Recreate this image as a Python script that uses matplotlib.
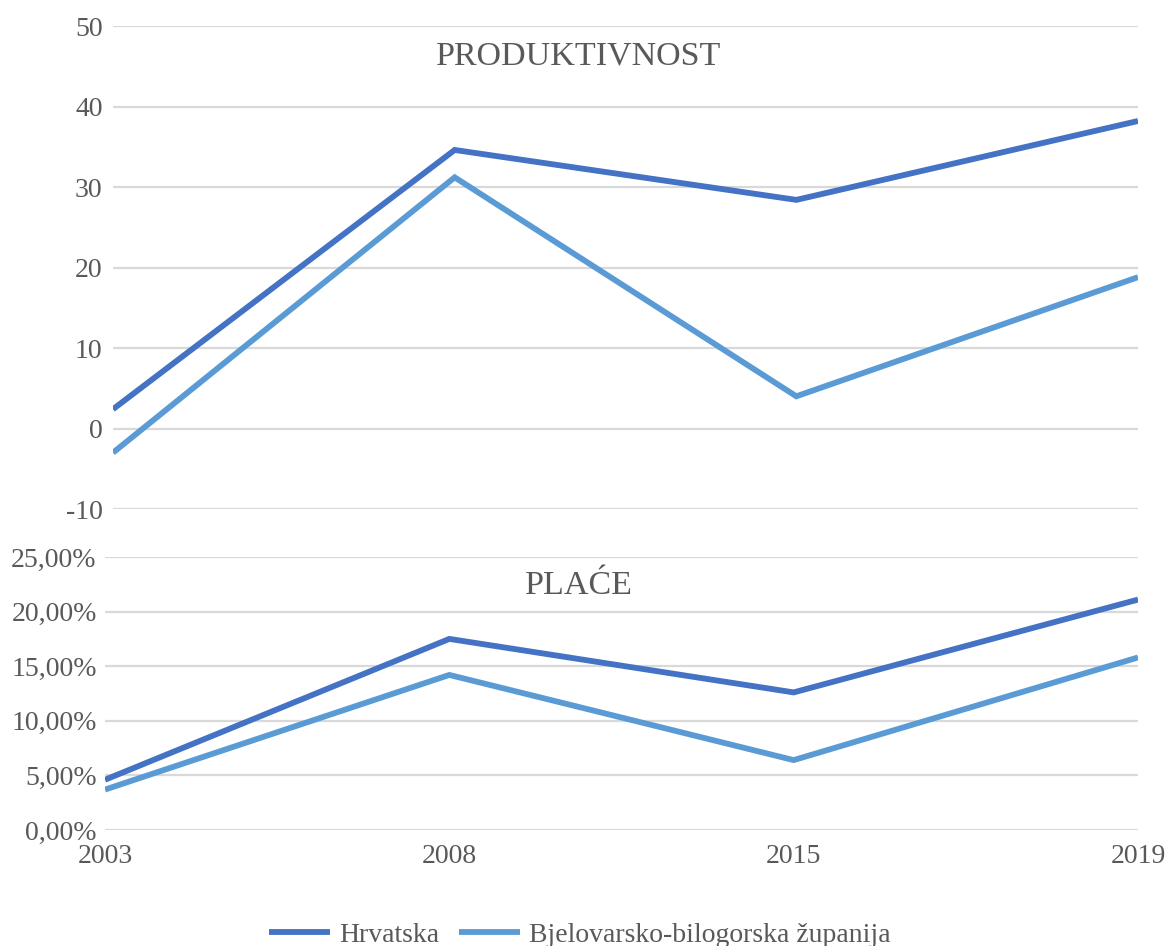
import matplotlib
matplotlib.use("Agg")
import matplotlib.pyplot as plt
from matplotlib.ticker import FuncFormatter

years = ["2003", "2008", "2015", "2019"]
prod_hr = [2.4, 34.6, 28.4, 38.2]
prod_bbz = [-3.0, 31.2, 4.0, 18.8]
place_hr = [4.6, 17.5, 12.6, 21.1]
place_bbz = [3.7, 14.2, 6.4, 15.8]
series_names = ["Hrvatska", "Bjelovarsko-bilogorska županija"]
titles = ["PRODUKTIVNOST", "PLAĆE"]

c_hr = "#4472C4"
c_bbz = "#5B9BD5"
txt = "#595959"
grid = "#D9D9D9"

plt.rcParams['font.family'] = ['Liberation Serif', 'DejaVu Serif']
plt.rcParams['axes.unicode_minus'] = False

W, H = 1169, 946
fig = plt.figure(figsize=(W / 100, H / 100), dpi=100)

def ax_at(left, top, right, bottom):
    return fig.add_axes([left / W, 1 - bottom / H, (right - left) / W, (bottom - top) / H])

ax1 = ax_at(113, 26, 1138, 509)
ax2 = ax_at(105, 557, 1138, 830)

x = list(range(len(years)))
lw = 4.2
for ax, a, b in ((ax1, prod_hr, prod_bbz), (ax2, place_hr, place_bbz)):
    ax.plot(x, a, color=c_hr, lw=lw, solid_capstyle='butt', solid_joinstyle='miter', label=series_names[0], zorder=3)
    ax.plot(x, b, color=c_bbz, lw=lw, solid_capstyle='butt', solid_joinstyle='miter', label=series_names[1], zorder=3)
    ax.set_xlim(0, len(years) - 1)
    for s in ax.spines.values():
        s.set_visible(False)
    ax.grid(axis='y', color=grid, lw=1.6, zorder=0)
    ax.tick_params(axis='both', length=0, labelsize=20, labelcolor=txt)
    ax.set_facecolor('none')

ax1.set_ylim(-10, 50)
ax1.set_yticks(range(-10, 51, 10))
ax1.set_xticks(x)
ax1.tick_params(axis='x', labelbottom=False)
ax1.tick_params(axis='y', pad=7.5)

ax2.set_ylim(0, 25)
ax2.set_yticks(range(0, 26, 5))
ax2.yaxis.set_major_formatter(FuncFormatter(lambda v, p: f"{v:.2f}".replace('.', ',') + "%"))
ax2.set_xticks(x)
ax2.set_xticklabels(years)
ax2.tick_params(axis='x', pad=10)
ax2.tick_params(axis='y', pad=6)

fig.text(579 / W, 1 - 56 / H, titles[0], ha='center', va='center', fontsize=24.5, color=txt)
fig.text(579 / W, 1 - 586 / H, titles[1], ha='center', va='center', fontsize=24.5, color=txt)

leg = fig.legend(handles=ax2.get_lines(), loc='center', bbox_to_anchor=(580 / W, 1 - 935 / H),
                 ncol=2, frameon=False, fontsize=20, labelcolor=txt, handlelength=2.2,
                 handletextpad=0.32, columnspacing=0.72)

fig.savefig("out.png", dpi=100)
